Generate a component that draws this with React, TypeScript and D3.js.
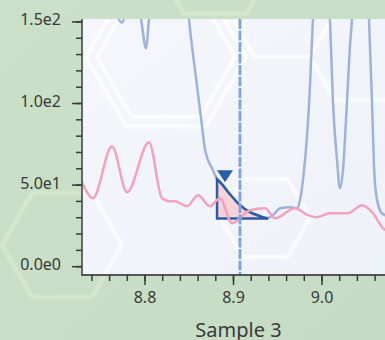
import React, { useEffect } from 'react';
import * as d3 from 'd3';

// trace 1 (blue) - retention time / intensity
const blueRt = [8.7288, 8.745, 8.762, 8.774, 8.785, 8.7955, 8.8011, 8.8045, 8.815, 8.83, 8.842,
  8.8497, 8.8588, 8.8644, 8.8678, 8.8768, 8.8814, 8.8859, 8.896, 8.9073, 8.9186, 8.9299, 8.9378,
  8.9446, 8.9525, 8.9638, 8.9718, 8.9751, 8.9797, 8.9831, 8.9864, 8.9887, 8.9898, 8.9989,
  9.009, 9.0124, 9.0169, 9.0203, 9.0237, 9.0282, 9.0316, 9.0339, 9.043, 9.0531, 9.0565,
  9.0588, 9.061, 9.0667, 9.0712, 9.0825];
const blueInt = [230, 200, 165, 149.6, 175, 151.7, 133.9, 151.7, 200, 260, 200,
  151.7, 110.6, 86.1, 72.0, 59.1, 53.6, 51.2, 44.4, 37.7, 33.4, 31.0, 29.7,
  31.6, 35.8, 36.5, 35.8, 40.7, 59.1, 80.1, 110.6, 139.2, 151.7, 400,
  151.7, 100.8, 65.9, 48.1, 59.1, 100.8, 135.3, 151.7, 350, 151.7, 100.8,
  61.6, 45.0, 33.4, 31.6, 30];

// trace 2 (pink)
const pinkRt = [8.7288, 8.7412, 8.7627, 8.7797, 8.8045, 8.8192, 8.8282, 8.8339, 8.8475, 8.8599,
  8.8734, 8.8847, 8.8983, 8.9186, 8.9356, 8.9469, 8.9695, 8.9842, 8.9944, 9.009, 9.0294,
  9.0452, 9.0576, 9.0689, 9.0825];
const pinkInt = [51.8, 42.0, 73.8, 45.6, 76.3, 42.0, 40.1, 40.1, 37.1, 43.8,
  37.1, 42.0, 26.7, 34.6, 35.8, 29.7, 35.8, 31.6, 30.3, 32.8, 32.8,
  37.7, 32.8, 23.6, 20];

const yTicks = [0, 50, 100, 150];
const xTicks = [8.8, 8.9, 9.0];
const cursorRt = 8.9073;
const peakStart = 8.8814;
const peakEnd = 8.9378;
const peakBase = 29.5;
const markerRt = 8.8904;
const markerInt = 51.8;
const xTitle = 'Sample 3';

const W = 385, H = 340;
const plot = { left: 82, top: 19, right: 395, bottom: 275 };
const font = '"Noto Sans", "Open Sans", sans-serif';

function hex(cx: number, cy: number, r: number) {
  const pts = d3.range(6).map(i => [cx + r * Math.cos(i * Math.PI / 3), cy + r * Math.sin(i * Math.PI / 3)]);
  return 'M' + pts.map(p => p.join(',')).join('L') + 'Z';
}

export default function App() {
  useEffect(() => { document.body.style.margin = '0'; }, []);

  const x = d3.scaleLinear().domain([8.7288, 9.0825]).range([plot.left, plot.right]);
  const y = d3.scaleLinear().domain([-5.1, 151.8]).range([plot.bottom, plot.top]);

  const blue = blueRt.map((r, i) => ({ r, v: blueInt[i] }));
  const pink = pinkRt.map((r, i) => ({ r, v: pinkInt[i] }));
  const line = d3.line<{ r: number; v: number }>().x(d => x(d.r)).y(d => y(d.v)).curve(d3.curveMonotoneX);
  const peakPts = blue.filter(d => d.r >= peakStart && d.r <= peakEnd);
  const area = d3.area<{ r: number; v: number }>()
    .x(d => x(d.r)).y0(y(peakBase)).y1(d => y(d.v)).curve(d3.curveMonotoneX);

  const fmt = (v: number) => d3.format('.1e')(v).replace('+', '');
  const xMinor = d3.range(8.74, 9.09, 0.02);
  const yMinor = d3.range(0, 151, 10);

  const mx = x(markerRt), my = y(markerInt);

  return (
    <svg width={W} height={H} style={{ position: 'fixed', left: 0, top: 0, display: 'block' }}>
      <defs>
        <clipPath id="plotClip">
          <rect x={plot.left} y={plot.top} width={plot.right - plot.left} height={plot.bottom - plot.top} />
        </clipPath>
        <filter id="soft"><feGaussianBlur stdDeviation="0.9" /></filter>
        <linearGradient id="bgGrad" x1="0" y1="0" x2="1" y2="1">
          <stop offset="0" stopColor="#cbe0c8" />
          <stop offset="1" stopColor="#c6dcc5" />
        </linearGradient>
        <linearGradient id="plotGrad" x1="0" y1="0" x2="1" y2="1">
          <stop offset="0" stopColor="#f4f6fb" />
          <stop offset="1" stopColor="#eef2f9" />
        </linearGradient>
      </defs>

      {/* background */}
      <rect width={W} height={H} fill="url(#bgGrad)" />
      <g fill="none" stroke="#d9ebd0" strokeWidth={3.5} filter="url(#soft)" opacity={0.9}>
        <path d={hex(62, 245, 60)} />
        <path d={hex(215, -40, 62)} />
      </g>

      {/* plot area */}
      <rect x={plot.left} y={plot.top} width={plot.right - plot.left} height={plot.bottom - plot.top} fill="url(#plotGrad)" />
      <g clipPath="url(#plotClip)">
        <g fill="none" stroke="#ffffff" strokeWidth={3} filter="url(#soft)" opacity={0.95}>
          <path d={hex(166, 57, 69)} />
          <path d={hex(166, 57, 80)} />
          <path d={hex(265, 218, 45)} />
          <path d={hex(360, 57, 50)} />
          <path d={hex(282, 9, 55)} />
          <path d={hex(62, 245, 60)} />
        </g>

        <path d={area(peakPts) || ''} fill="#f5d3d8" stroke="none" />
        <path d={line(blue) || ''} fill="none" stroke="#9fb2da" strokeWidth={2.5} />
        <path d={area(peakPts) || ''} fill="none" stroke="#2c5ca8" strokeWidth={2.5} strokeLinejoin="miter" />
        <path d={line(pink) || ''} fill="none" stroke="#f3a2bd" strokeWidth={2.5} />
        <path d={`M${mx - 8},${my - 12}L${mx + 8},${my - 12}L${mx},${my}Z`} fill="#2c5ca8" />
        <line x1={x(cursorRt)} x2={x(cursorRt)} y1={plot.top} y2={plot.bottom}
          stroke="#7ea2dc" strokeWidth={2.8} strokeDasharray="10 1.5" />
      </g>

      {/* y axis */}
      <line x1={plot.left} x2={plot.left} y1={plot.top} y2={plot.bottom} stroke="#666" strokeWidth={2} />
      {yMinor.map(t => (
        <line key={'ym' + t} x1={plot.left - 6} x2={plot.left} y1={y(t)} y2={y(t)} stroke="#3a3a3a" strokeWidth={1.5} />
      ))}
      {yTicks.map(t => (
        <g key={'y' + t}>
          <line x1={plot.left - 10} x2={plot.left} y1={y(t)} y2={y(t)} stroke="#3a3a3a" strokeWidth={1.5} />
          <text x={61} y={y(t) + 3.5} textAnchor="end" fontFamily={font} fontSize={16} fill="#3a3a3a">{fmt(t)}</text>
        </g>
      ))}

      {/* x axis */}
      <line x1={plot.left - 1} x2={plot.right} y1={plot.bottom} y2={plot.bottom} stroke="#555" strokeWidth={2} />
      {xMinor.map(t => (
        <line key={'xm' + t} x1={x(t)} x2={x(t)} y1={plot.bottom} y2={plot.bottom + 6} stroke="#3a3a3a" strokeWidth={1.5} />
      ))}
      {xTicks.map(t => (
        <g key={'x' + t}>
          <line x1={x(t)} x2={x(t)} y1={plot.bottom} y2={plot.bottom + 10} stroke="#3a3a3a" strokeWidth={1.5} />
          <text x={x(t)} y={303} textAnchor="middle" fontFamily={font} fontSize={16} fill="#3a3a3a">{d3.format('.1f')(t)}</text>
        </g>
      ))}
      <text x={(plot.left + plot.right) / 2} y={337} textAnchor="middle" fontFamily={font} fontSize={20} fill="#3a3a3a">{xTitle}</text>
    </svg>
  );
}
